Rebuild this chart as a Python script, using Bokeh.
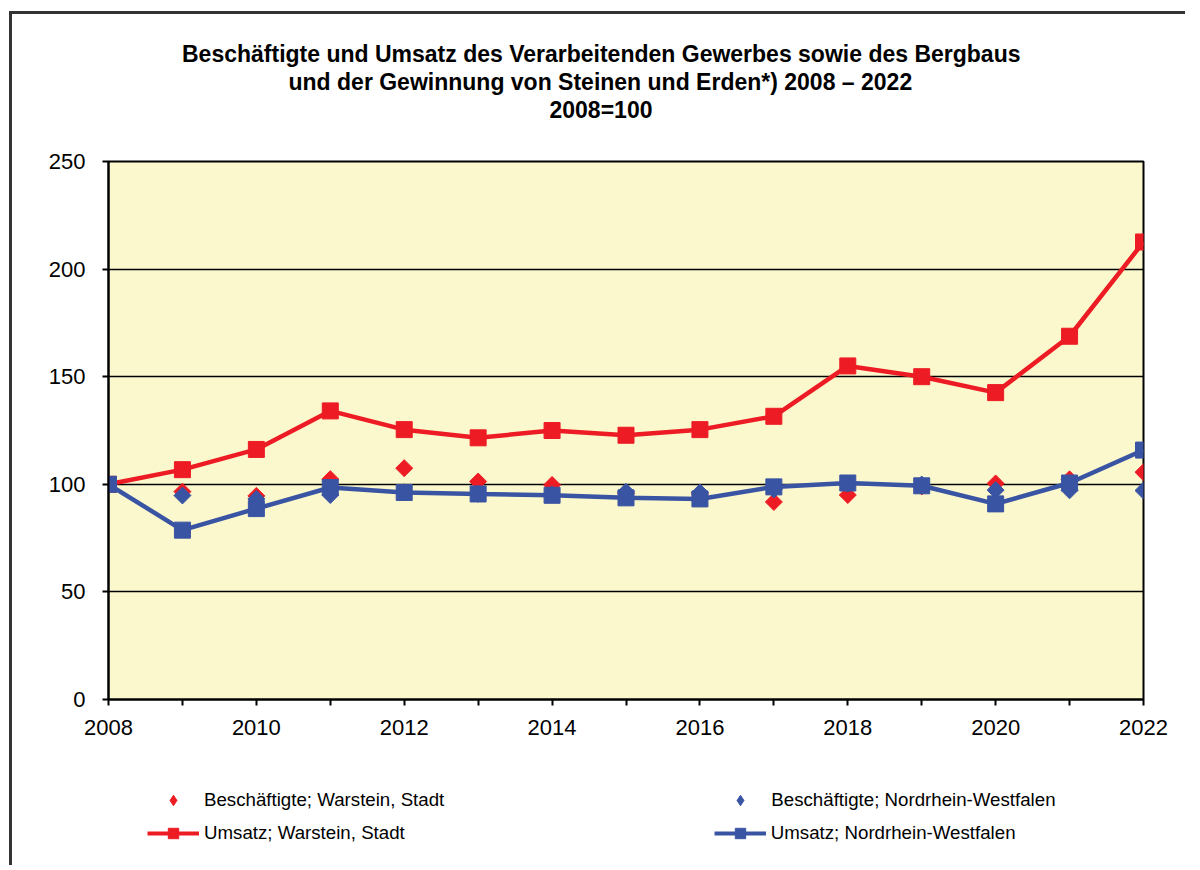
import math
from bokeh.plotting import figure
from bokeh.layouts import column
from bokeh.models import (Legend, LegendItem, FixedTicker, Range1d, ColumnDataSource, Title)
from bokeh.embed import file_html
from bokeh.resources import INLINE

# ---- data ----
years = list(range(2008, 2023))
umsatz_warstein = [100, 106.8, 116.2, 134.1, 125.4, 121.6, 125.0, 122.8, 125.4,
                   131.6, 155.0, 150.0, 142.6, 168.8, 212.6]
umsatz_nrw = [100, 78.7, 88.7, 98.5, 96.2, 95.5, 94.9, 93.7, 93.2,
              98.8, 100.6, 99.3, 90.9, 100.6, 115.9]
besch_warstein = [100, 96.6, 94.6, 102.4, 107.5, 101.3, 99.7, 95.8, 95.5,
                  91.8, 95.0, 99.0, 100.4, 102.3, 105.6]
besch_nrw = [100, 94.8, 93.2, 95.0, 96.3, 95.6, 95.3, 96.5, 96.2,
             97.6, 100.3, 99.9, 97.3, 97.2, 97.1]
y_ticks = [0, 50, 100, 150, 200, 250]
x_label_years = [2008, 2010, 2012, 2014, 2016, 2018, 2020, 2022]
title_lines = [
    "Beschäftigte und Umsatz des Verarbeitenden Gewerbes sowie des Bergbaus",
    "und der Gewinnung von Steinen und Erden*) 2008 – 2022",
    "2008=100",
]
labels = ["Beschäftigte; Warstein, Stadt", "Beschäftigte; Nordrhein-Westfalen",
          "Umsatz; Warstein, Stadt", "Umsatz; Nordrhein-Westfalen"]

RED = "#ED1C24"
BLUE = "#3A54A4"
FONT = "Liberation Sans"
BORDER = "3px solid #333333"

src = ColumnDataSource(dict(year=years, uw=umsatz_warstein, un=umsatz_nrw,
                            bw=besch_warstein, bn=besch_nrw))

p = figure(width=1176, height=740, output_backend="svg", toolbar_location=None,
           x_range=Range1d(2008, 2022), y_range=Range1d(0, 250),
           min_border_left=96, min_border_right=45, min_border_top=147,
           min_border_bottom=55)
p.styles = {"border-left": BORDER, "border-top": BORDER,
            "margin-left": "9px", "margin-top": "11px"}
p.background_fill_color = "#FCF8CD"
p.border_fill_color = "white"
p.outline_line_color = "black"
p.outline_line_width = 2

# axes
p.xaxis.ticker = FixedTicker(ticks=years)
p.xaxis.major_label_overrides = {y: (str(y) if y in x_label_years else "") for y in years}
p.yaxis.ticker = FixedTicker(ticks=y_ticks)
for ax in (p.xaxis, p.yaxis):
    ax.axis_line_color = "black"
    ax.axis_line_width = 2
    ax.major_tick_line_color = "black"
    ax.major_tick_line_width = 2
    ax.major_tick_out = 6
    ax.major_tick_in = 0
    ax.minor_tick_line_color = None
    ax.major_label_text_font = FONT
    ax.major_label_text_font_size = "22px"
    ax.major_label_text_color = "black"
p.xaxis.major_label_standoff = 14
p.yaxis.major_label_standoff = 17

p.xgrid.grid_line_color = None
p.ygrid.grid_line_color = "black"
p.ygrid.grid_line_width = 1.5
p.ygrid.ticker = FixedTicker(ticks=y_ticks)

# series
p.line("year", "uw", source=src, line_color=RED, line_width=4.5)
p.scatter("year", "uw", source=src, marker="square", size=16, color=RED)
p.scatter("year", "bw", source=src, marker="square", angle=math.pi / 4,
          size=12, color=RED)
p.scatter("year", "bn", source=src, marker="square", angle=math.pi / 4,
          size=12, color=BLUE)
p.line("year", "un", source=src, line_color=BLUE, line_width=4.5)
p.scatter("year", "un", source=src, marker="square", size=16, color=BLUE)

# title: spacer next to the plot, then the three lines outward
p.add_layout(Title(text=" ", text_font_size="33px", standoff=0), "above")
for txt, off in zip(reversed(title_lines), [441, 180, 73.5]):
    p.add_layout(Title(text=txt, align="left", offset=off, standoff=0,
                       text_font=FONT, text_font_size="23px",
                       text_font_style="bold", text_color="black"), "above")

# legend strip below the chart: key renderers use the same series, but the
# strip's ranges keep them out of view so only the legend keys show
q = figure(width=1176, height=114, output_backend="svg", toolbar_location=None,
           x_range=Range1d(0, 1), y_range=Range1d(0, 1),
           x_axis_location=None, y_axis_location=None, min_border=0)
q.styles = {"border-left": BORDER, "margin-left": "9px"}
q.grid.visible = False
q.outline_line_color = None
q.background_fill_color = "white"
q.border_fill_color = "white"
k1 = q.scatter("year", "bw", source=src, marker="diamond", color=RED)
k2 = q.scatter("year", "bn", source=src, marker="diamond", color=BLUE)
k3l = q.line("year", "uw", source=src, line_color=RED, line_width=4)
k3s = q.scatter("year", "uw", source=src, marker="square", color=RED)
k4l = q.line("year", "un", source=src, line_color=BLUE, line_width=4)
k4s = q.scatter("year", "un", source=src, marker="square", color=BLUE)

def make_legend(items, loc, spacing):
    return Legend(items=items, orientation="horizontal", location=loc,
                  label_text_font=FONT, label_text_font_size="18.7px",
                  label_text_color="black",
                  glyph_width=52, glyph_height=26, label_height=26,
                  label_standoff=5, spacing=spacing, padding=0, margin=0,
                  border_line_color=None, background_fill_alpha=0)

q.add_layout(make_legend([LegendItem(label=labels[0], renderers=[k1]),
                          LegendItem(label=labels[1], renderers=[k2])], (39, 52), 270))
q.add_layout(make_legend([LegendItem(label=labels[2], renderers=[k3l, k3s]),
                          LegendItem(label=labels[3], renderers=[k4l, k4s])], (39, 19), 309))

layout = column(p, q, spacing=0)
open("out.html", "w").write(file_html(layout, INLINE))
